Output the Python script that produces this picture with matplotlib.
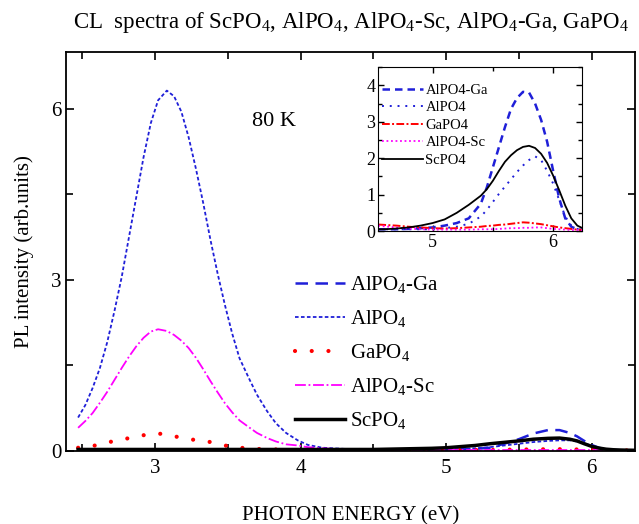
import matplotlib
matplotlib.use('Agg')
from matplotlib import pyplot as plt
from matplotlib.ticker import MultipleLocator

plt.rcParams['font.family'] = ['Liberation Serif', 'DejaVu Serif']
plt.rcParams['mathtext.fontset'] = 'custom'
plt.rcParams['mathtext.rm'] = 'Liberation Serif'
plt.rcParams['mathtext.default'] = 'regular'

# main spectra (eV, arb. units)
energy = [2.47, 2.52, 2.57, 2.62, 2.67, 2.72, 2.77, 2.82, 2.87, 2.92, 2.97, 3.02,
          3.08, 3.13, 3.18, 3.23, 3.28, 3.33, 3.38, 3.43, 3.48, 3.53, 3.58,
          3.65, 3.70, 3.77, 3.83, 3.90, 3.98, 4.05, 4.15,
          4.30, 4.50, 4.70, 4.90,
          5.00, 5.10, 5.20, 5.30, 5.40, 5.50, 5.60, 5.70,
          5.78, 5.85, 5.90, 5.95, 6.00, 6.05, 6.10, 6.15, 6.20, 6.30]

alpo4_ga = [0.02, 0.02, 0.02, 0.02, 0.02, 0.02, 0.02, 0.02, 0.02, 0.02, 0.02, 0.02,
            0.02, 0.02, 0.02, 0.02, 0.02, 0.02, 0.02, 0.02, 0.02, 0.02, 0.02,
            0.01, 0.01, 0.01, 0.01, 0.01, 0.01, 0.01, 0.01,
            0.01, 0.01, 0.01, 0.01,
            0.01, 0.02, 0.03, 0.05, 0.12, 0.20, 0.30, 0.36,
            0.36, 0.31, 0.25, 0.17, 0.10, 0.05, 0.02, 0.01, 0.005, 0.0]

alpo4 = [0.58, 0.80, 1.10, 1.45, 1.90, 2.45, 3.05, 3.75, 4.45, 5.15, 5.75, 6.15,
         6.32, 6.22, 5.95, 5.50, 4.95, 4.35, 3.70, 3.10, 2.55, 2.05, 1.62,
         1.24, 0.98, 0.69, 0.48, 0.31, 0.18, 0.10, 0.05,
         0.03, 0.02, 0.02, 0.02,
         0.02, 0.03, 0.04, 0.06, 0.09, 0.12, 0.15, 0.17,
         0.18, 0.18, 0.16, 0.13, 0.09, 0.05, 0.02, 0.01, 0.005, 0.0]

gapo4 = [0.05, 0.06, 0.08, 0.11, 0.14, 0.17, 0.19, 0.22, 0.25, 0.27, 0.29, 0.30,
         0.28, 0.25, 0.23, 0.21, 0.18, 0.17, 0.15, 0.12, 0.09, 0.06, 0.05,
         0.04, 0.03, 0.02, 0.02, 0.01, 0.01, 0.01, 0.01,
         0.01, 0.01, 0.01, 0.01,
         0.01, 0.01, 0.01, 0.01, 0.015, 0.02, 0.02, 0.025,
         0.025, 0.025, 0.02, 0.02, 0.02, 0.015, 0.01, 0.01, 0.005, 0.0]

alpo4_sc = [0.40, 0.52, 0.66, 0.84, 1.03, 1.24, 1.45, 1.65, 1.83, 1.98, 2.09, 2.13,
            2.10, 2.03, 1.93, 1.80, 1.63, 1.43, 1.22, 1.02, 0.83, 0.67, 0.53,
            0.40, 0.31, 0.22, 0.16, 0.11, 0.09, 0.06, 0.04,
            0.02, 0.01, 0.01, 0.01,
            0.01, 0.01, 0.01, 0.01, 0.01, 0.01, 0.01, 0.01,
            0.01, 0.01, 0.01, 0.01, 0.01, 0.01, 0.0, 0.0, 0.0, 0.0]

scpo4 = [0.02, 0.02, 0.02, 0.02, 0.02, 0.02, 0.02, 0.02, 0.02, 0.02, 0.02, 0.02,
         0.02, 0.02, 0.02, 0.02, 0.02, 0.02, 0.02, 0.02, 0.02, 0.02, 0.02,
         0.02, 0.02, 0.02, 0.02, 0.02, 0.02, 0.02, 0.02,
         0.02, 0.02, 0.03, 0.04,
         0.05, 0.07, 0.09, 0.12, 0.145, 0.17, 0.20, 0.215,
         0.22, 0.20, 0.17, 0.12, 0.075, 0.045, 0.025, 0.015, 0.01, 0.005]

# inset: UV band, magnified
energy_in = [4.55, 4.60, 4.70, 4.80, 4.90, 5.00, 5.10, 5.20, 5.30, 5.40, 5.45, 5.50,
             5.55, 5.60, 5.65, 5.70, 5.75, 5.80, 5.85, 5.90, 5.95, 6.00, 6.05,
             6.10, 6.15, 6.20, 6.25]

alpo4_ga_in = [0.05, 0.05, 0.05, 0.06, 0.08, 0.10, 0.15, 0.22, 0.35, 0.75, 1.20, 1.75,
               2.30, 2.85, 3.35, 3.65, 3.82, 3.80, 3.50, 3.05, 2.45, 1.65, 0.90,
               0.35, 0.12, 0.05, 0.03]
alpo4_in = [0.05, 0.05, 0.05, 0.05, 0.05, 0.05, 0.08, 0.12, 0.20, 0.40, 0.58, 0.80,
            1.02, 1.22, 1.42, 1.62, 1.80, 1.95, 2.05, 1.95, 1.65, 1.30, 0.85,
            0.40, 0.15, 0.06, 0.03]
gapo4_in = [0.18, 0.17, 0.15, 0.12, 0.10, 0.08, 0.07, 0.08, 0.10, 0.12, 0.14, 0.15,
            0.17, 0.18, 0.20, 0.22, 0.24, 0.23, 0.21, 0.19, 0.16, 0.13, 0.10,
            0.08, 0.06, 0.04, 0.03]
alpo4_sc_in = [0.15, 0.13, 0.10, 0.07, 0.05, 0.04, 0.04, 0.04, 0.04, 0.05, 0.05, 0.05,
               0.06, 0.07, 0.08, 0.08, 0.09, 0.09, 0.10, 0.10, 0.08, 0.06, 0.05,
               0.04, 0.03, 0.03, 0.02]
scpo4_in = [0.05, 0.05, 0.07, 0.10, 0.15, 0.22, 0.32, 0.50, 0.72, 0.97, 1.15, 1.38,
            1.65, 1.90, 2.08, 2.22, 2.31, 2.34, 2.28, 2.12, 1.87, 1.52, 1.12,
            0.70, 0.35, 0.15, 0.07]

blue = '#1f1fd8'

fig = plt.figure(figsize=(6.39, 5.24), dpi=100)
ax = fig.add_axes([0.104, 0.139, 0.890, 0.762])

ax.plot(energy, alpo4_ga, color=blue, ls=(0, (5, 3)), lw=1.8, label='AlPO$_4$-Ga')
ax.plot(energy, alpo4, color=blue, ls=(0, (2, 1.3)), lw=1.3, label='AlPO$_4$')
ax.plot(energy, gapo4, color='red', ls=(0, (0.01, 4.0)), lw=3.0,
        dash_capstyle='round', label='GaPO$_4$')
ax.plot(energy, alpo4_sc, color='magenta', ls=(0, (6, 1.5, 1, 1.5)), lw=1.3,
        label='AlPO$_4$-Sc')
ax.plot(energy, scpo4, color='black', lw=2.5, label='ScPO$_4$')

ax.set_xlim(2.39, 6.30)
ax.set_ylim(-0.01, 7.0)
ax.xaxis.set_major_locator(MultipleLocator(1))
ax.xaxis.set_minor_locator(MultipleLocator(0.5))
ax.yaxis.set_major_locator(MultipleLocator(3))
ax.yaxis.set_minor_locator(MultipleLocator(1.5))
ax.tick_params(which='both', direction='in', top=True, right=True, width=1.2,
               labelsize=15)
ax.tick_params(axis='x', pad=6)
ax.tick_params(which='major', length=6)
ax.tick_params(which='minor', length=5)
for s in ax.spines.values():
    s.set_linewidth(1.3)

ax.set_xlabel('PHOTON ENERGY (eV)', fontsize=15, labelpad=20)
ax.set_ylabel('PL intensity (arb.units)', fontsize=15, labelpad=12)
ax.set_title('CL  spectra of ScPO$_4$, AlPO$_4$, AlPO$_4$-Sc, AlPO$_4$-Ga, GaPO$_4$',
             fontsize=16.5, pad=17)
ax.text(3.665, 5.7, '80 K', fontsize=16)

ax.legend(loc='upper left', bbox_to_anchor=(0.402, 0.444), frameon=False,
          fontsize=15, handlelength=2.4, handletextpad=0.25, labelspacing=0.63,
          borderpad=0, borderaxespad=0)

# inset
ins = fig.add_axes([0.592, 0.559, 0.319, 0.313])
ins.plot(energy_in, alpo4_ga_in, color=blue, ls=(0, (3, 2)), lw=1.8, label='AlPO4-Ga')
ins.plot(energy_in, alpo4_in, color=blue, ls=(0, (1, 3)), lw=1.4, label='AlPO4')
ins.plot(energy_in, gapo4_in, color='red', ls=(0, (4, 1.2, 1, 1.2)), lw=1.4,
         label='GaPO4')
ins.plot(energy_in, alpo4_sc_in, color='magenta', ls=(0, (1, 1.5)), lw=1.3,
         label='AlPO4-Sc')
ins.plot(energy_in, scpo4_in, color='black', lw=1.3, label='ScPO4')

ins.set_xlim(4.55, 6.24)
ins.set_ylim(0, 4.5)
ins.xaxis.set_major_locator(MultipleLocator(1))
ins.xaxis.set_minor_locator(MultipleLocator(0.5))
ins.yaxis.set_major_locator(MultipleLocator(1))
ins.yaxis.set_minor_locator(MultipleLocator(0.5))
ins.tick_params(which='both', direction='in', top=True, right=True, width=1,
                labelsize=13, pad=2)
ins.tick_params(which='major', length=4)
ins.tick_params(which='minor', length=3)
ins.legend(loc='upper left', bbox_to_anchor=(0.02, 0.9), frameon=False,
           fontsize=10.5, handlelength=2.8, handletextpad=0.15, labelspacing=0.3,
           borderpad=0, borderaxespad=0)

fig.savefig('out.png', dpi=100)
